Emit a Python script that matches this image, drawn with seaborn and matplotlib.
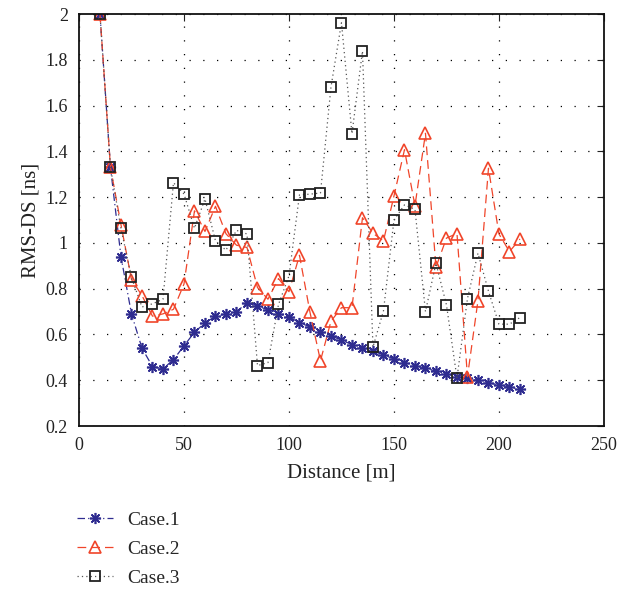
import numpy as np
import pandas as pd
import matplotlib
matplotlib.use("Agg")
import matplotlib.pyplot as plt
import seaborn as sns

# Distance sample points [m]
distance = list(range(10, 215, 5))

# RMS delay spread [ns] for the three cases
case1 = [2.00, 1.33, 0.94, 0.69, 0.54, 0.46, 0.45, 0.49, 0.55, 0.61, 0.65,
         0.68, 0.69, 0.70, 0.737, 0.725, 0.707, 0.691, 0.676, 0.652, 0.633,
         0.612, 0.594, 0.575, 0.556, 0.540, 0.527, 0.511, 0.493, 0.477,
         0.464, 0.453, 0.440, 0.428, 0.416, 0.409, 0.399, 0.389, 0.380,
         0.371, 0.361]
case2 = [2.00, 1.33, 1.08, 0.84, 0.77, 0.68, 0.69, 0.71, 0.82, 1.14, 1.05,
         1.16, 1.04, 0.99, 0.98, 0.805, 0.754, 0.844, 0.787, 0.946, 0.697,
         0.485, 0.658, 0.717, 0.717, 1.11, 1.042, 1.009, 1.205, 1.407,
         1.162, 1.479, 0.894, 1.021, 1.041, 0.416, 0.748, 1.326, 1.039,
         0.962, 1.017]
case3 = [2.00, 1.33, 1.063, 0.849, 0.72, 0.734, 0.754, 1.263, 1.214, 1.064,
         1.192, 1.009, 0.968, 1.055, 1.039, 0.464, 0.477, 0.731, 0.856,
         1.21, 1.213, 1.218, 1.681, 1.962, 1.477, 1.838, 0.545, 0.703, 1.10,
         1.166, 1.147, 0.70, 0.911, 0.729, 0.409, 0.757, 0.955, 0.789,
         0.645, 0.645, 0.674]

labels = ["Case.1", "Case.2", "Case.3"]
xticks = [0, 50, 100, 150, 200, 250]
yticks = [0.2, 0.4, 0.6, 0.8, 1.0, 1.2, 1.4, 1.6, 1.8, 2.0]
yticklabels = ["0.2", "0.4", "0.6", "0.8", "1", "1.2", "1.4", "1.6", "1.8", "2"]

df = pd.DataFrame({
    "Distance": distance * 3,
    "RMS": case1 + case2 + case3,
    "Case": np.repeat(labels, len(distance)),
})

sns.set_style("white")
plt.rcParams["font.family"] = ["Liberation Serif", "DejaVu Serif"]

fig = plt.figure(figsize=(6.4, 5.89), dpi=100)
ax = fig.add_axes([0.1234, 0.2767, 0.8203, 0.6995])

styles = {
    "Case.1": dict(color="#2f2c90", linestyle=(0, (6, 2.5, 1, 2.5)), linewidth=0.9,
                   marker=(8, 2, 0), markersize=8, markeredgewidth=1.2,
                   markeredgecolor="#2f2c90", markerfacecolor="none"),
    "Case.2": dict(color="#f0452a", linestyle=(0, (7, 4)), linewidth=0.9,
                   marker="^", markersize=9, markeredgewidth=1.2,
                   markeredgecolor="#f0452a", markerfacecolor="none"),
    "Case.3": dict(color="#555555", linestyle=(0, (1, 2.5)), linewidth=0.9,
                   marker="s", markersize=7, markeredgewidth=1.3,
                   markeredgecolor="#222222", markerfacecolor="none"),
}

for lab in labels:
    sub = df[df["Case"] == lab]
    sns.lineplot(data=sub, x="Distance", y="RMS", ax=ax, label=lab,
                 estimator=None, sort=False, **styles[lab])

ax.set_xlim(0, 250)
ax.set_ylim(0.2, 2.0)
ax.set_xticks(xticks)
ax.set_yticks(yticks)
ax.set_yticklabels(yticklabels)
ax.grid(True, color="black", linestyle=(0, (1, 10)), linewidth=0.9)
ax.tick_params(direction="in", length=5, width=0.8, top=True, right=True,
               labelsize=13, colors="#222222", pad=8)
for sp in ax.spines.values():
    sp.set_color("#111111")
    sp.set_linewidth(1.3)

ax.set_xlabel("Distance [m]", fontsize=15, color="#222222")
ax.set_ylabel("RMS-DS [ns]", fontsize=15, color="#222222")
ax.xaxis.set_label_coords(0.5, -0.092)
ax.yaxis.set_label_coords(-0.073, 0.5)

handles, lbls = ax.get_legend_handles_labels()
ax.legend_.remove()
fig.legend(handles, lbls, loc="upper left", bbox_to_anchor=(0.108, 0.145),
           frameon=False, fontsize=14, handlelength=1.85, handletextpad=0.72,
           labelspacing=0.59, borderaxespad=0)

fig.savefig("out.png", dpi=100)
